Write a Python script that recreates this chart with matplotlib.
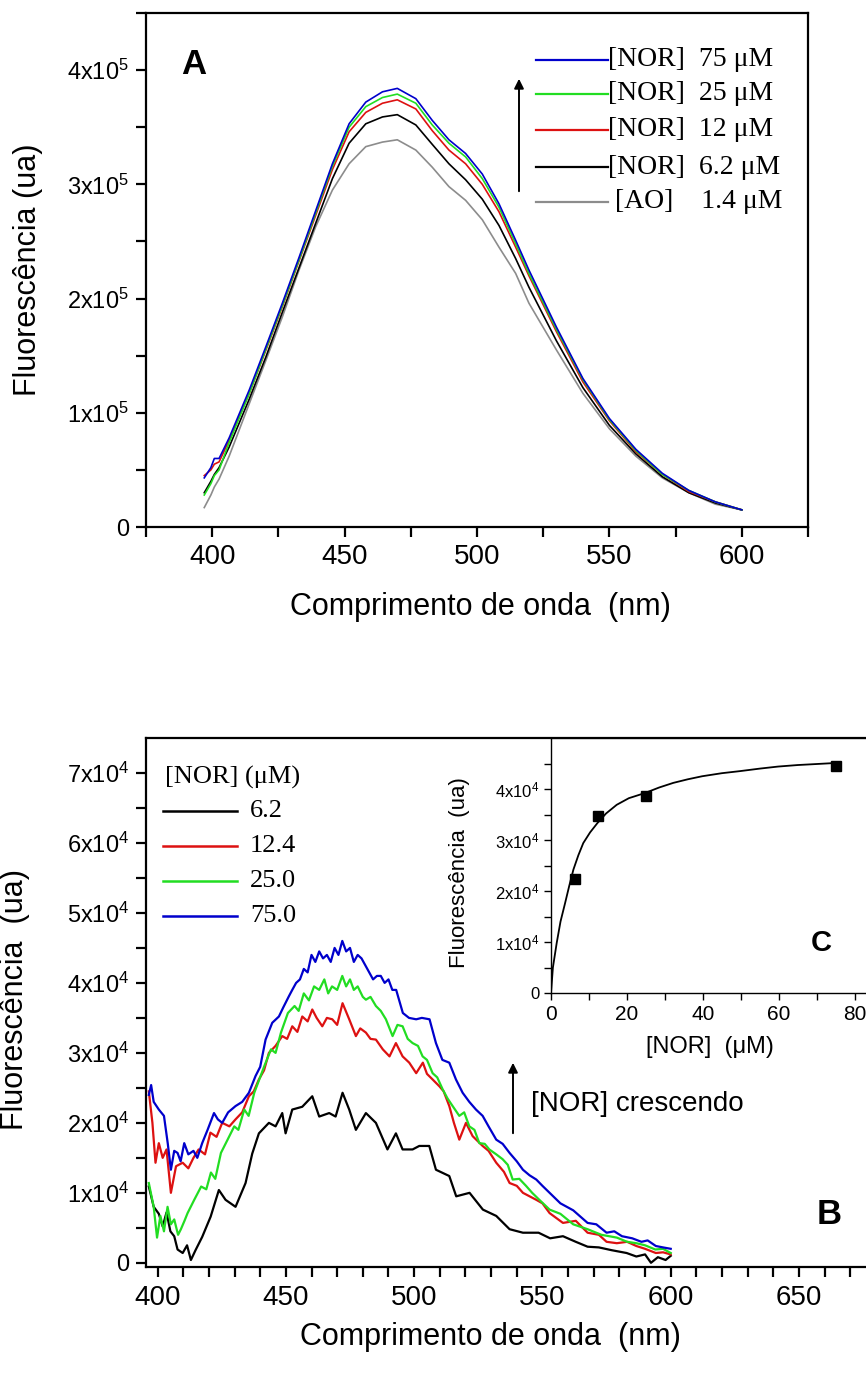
import matplotlib
matplotlib.use('Agg')
import matplotlib.pyplot as plt
import numpy as np
from matplotlib.ticker import FixedLocator, FuncFormatter
from matplotlib import font_manager
from matplotlib.lines import Line2D

# ---------------- data: panel A (values in units of 1e5) ----------------
wlA = [397, 399.5, 400.8, 402.6, 406.4, 414, 420.3, 426.5, 432.8, 439.1, 445.4, 451.7, 458,
       464.3, 469.9, 476.9, 483.1, 489.4, 495.7, 502, 508.3, 514.6, 519.6, 530, 540, 550,
       560, 570, 580, 590, 600]
A_nor75 = [0.43, 0.52, 0.6, 0.6, 0.78, 1.2, 1.58, 1.96, 2.36, 2.77, 3.18, 3.53, 3.72, 3.81, 3.84,
           3.75, 3.56, 3.39, 3.27, 3.09, 2.83, 2.51, 2.25, 1.75, 1.3, 0.95, 0.68, 0.47, 0.32, 0.22, 0.15]
A_nor25 = [0.28, 0.38, 0.45, 0.5, 0.74, 1.17, 1.56, 1.94, 2.34, 2.75, 3.16, 3.5, 3.68, 3.76, 3.79,
           3.71, 3.52, 3.36, 3.24, 3.05, 2.8, 2.48, 2.22, 1.73, 1.29, 0.94, 0.67, 0.46, 0.32, 0.22, 0.15]
A_nor12 = [0.45, 0.5, 0.55, 0.57, 0.76, 1.17, 1.55, 1.93, 2.33, 2.73, 3.13, 3.46, 3.63, 3.71, 3.74,
           3.66, 3.47, 3.3, 3.18, 3.0, 2.76, 2.45, 2.2, 1.71, 1.27, 0.93, 0.66, 0.46, 0.31, 0.22, 0.15]
A_nor6 = [0.3, 0.4, 0.46, 0.52, 0.7, 1.12, 1.49, 1.88, 2.27, 2.66, 3.05, 3.36, 3.53, 3.59, 3.61,
          3.52, 3.35, 3.18, 3.04, 2.87, 2.64, 2.35, 2.1, 1.63, 1.22, 0.89, 0.64, 0.44, 0.3, 0.21, 0.15]
A_ao = [0.17, 0.28, 0.35, 0.42, 0.62, 1.08, 1.46, 1.84, 2.25, 2.63, 2.95, 3.18, 3.33, 3.37, 3.39,
        3.3, 3.15, 2.98, 2.86, 2.69, 2.45, 2.22, 1.96, 1.55, 1.17, 0.86, 0.62, 0.43, 0.3, 0.2, 0.15]
A_labels = ['[NOR]  75 \u03bcM', '[NOR]  25 \u03bcM', '[NOR]  12 \u03bcM', '[NOR]  6.2 \u03bcM',
            ' [AO]    1.4 \u03bcM']

# ---------------- data: panel B (values in units of 1e4) ----------------
B_x62 = [396.6, 398.5, 400.5, 402, 403.5, 405, 406.5, 407.8, 409.8, 411.5, 413, 414.8, 417.4,
         420.7, 423.9, 426.5, 430.4, 434.3, 436.9, 439.5, 443.4, 446, 448.6, 449.9, 452.5, 456.4,
         460.3, 463, 466.9, 469.4, 472.1, 474.7, 477.3, 481.2, 485.1, 489.6, 492.9, 495.5, 499.4,
         502, 505.9, 508.5, 513.7, 516.4, 521.6, 526.8, 532, 537.2, 542.4, 548.5, 553, 558, 563,
         567.6, 572, 577, 582.8, 586.6, 590, 592.3, 595, 598, 600]
B_y62 = [1.09, 0.8, 0.7, 0.52, 0.72, 0.45, 0.38, 0.19, 0.14, 0.25, 0.04, 0.18, 0.37,
         0.66, 1.04, 0.9, 0.8, 1.14, 1.56, 1.85, 2.0, 1.95, 2.14, 1.85, 2.19, 2.23,
         2.38, 2.09, 2.14, 2.09, 2.43, 2.19, 1.9, 2.14, 2.0, 1.62, 1.85, 1.62, 1.62,
         1.67, 1.67, 1.33, 1.24, 0.95, 1.0, 0.76, 0.67, 0.48, 0.43, 0.43, 0.35, 0.38, 0.3,
         0.23, 0.22, 0.18, 0.14, 0.09, 0.12, 0.0, 0.08, 0.04, 0.1]

B_x124 = [396.6, 398, 399.2, 400.5, 402, 403.5, 405.2, 407.2, 409.8, 412, 414, 416, 418.5, 420.6,
          423, 425.2, 428, 430.4, 433, 435.6, 437.5, 439.5, 441.5, 443.4, 446, 448.6, 450.5,
          452.5, 454.5, 456.4, 458.5, 460.3, 462, 464.2, 466, 468.1, 470, 472.1, 474.7, 477.3,
          479, 481.2, 483, 485.1, 487.8, 490.4, 492.9, 495.5, 498.1, 500.8, 503.4, 505, 507.2,
          509.9, 511.5, 513.7, 515.5, 517.6, 520.2, 522.8, 526.7, 529, 532, 535, 537.2, 540,
          542.4, 545, 547.6, 550, 552.8, 558, 563, 567.6, 572, 575, 579, 583, 586.6, 590, 594.2,
          597, 600]
B_y124 = [2.45, 2.0, 1.43, 1.71, 1.5, 1.62, 1.0, 1.38, 1.43, 1.35, 1.5, 1.62, 1.55, 1.86,
          1.8, 2.0, 1.95, 2.05, 2.15, 2.38, 2.45, 2.62, 2.75, 3.0, 3.1, 3.24, 3.2,
          3.38, 3.3, 3.52, 3.45, 3.62, 3.5, 3.38, 3.5, 3.48, 3.4, 3.71, 3.48, 3.24,
          3.35, 3.29, 3.2, 3.19, 3.05, 2.95, 3.14, 2.95, 2.86, 2.71, 2.86, 2.7, 2.62,
          2.52, 2.45, 2.24, 2.0, 1.76, 2.0, 1.81, 1.67, 1.6, 1.43, 1.3, 1.14, 1.1,
          1.0, 0.95, 0.9, 0.85, 0.71, 0.57, 0.6, 0.43, 0.4, 0.3, 0.28, 0.3, 0.24, 0.2, 0.14,
          0.15, 0.12]

B_x25 = [396.6, 398.5, 399.8, 401.1, 402.5, 403.9, 405.2, 406.5, 408, 409.1, 410.5, 411.7, 414.3,
         417, 419, 420.8, 422.5, 424.7, 427.3, 429.9, 431.5, 433.8, 435.5, 437.7, 441.6, 444.2,
         446, 448.1, 450.8, 453.4, 455, 457, 459, 461, 463, 465, 466.5, 468, 470, 472, 473.5,
         475, 476.5, 478, 480, 481.2, 483, 485.1, 487, 489, 491.6, 493.5, 495.5, 497.5, 499.4,
         501.5, 503.3, 505, 507.2, 509, 511.1, 513, 515, 517.6, 519.5, 521.5, 523.5, 525.4,
         527.5, 529.3, 532, 534.5, 536.5, 538.4, 541, 543.6, 546, 548.8, 552.8, 557, 562, 567.6,
         573, 579, 583, 586.6, 590, 594, 597, 600]
B_y25 = [1.14, 0.8, 0.36, 0.67, 0.45, 0.8, 0.55, 0.62, 0.4, 0.48, 0.6, 0.71, 0.9,
         1.09, 1.05, 1.29, 1.2, 1.57, 1.76, 1.95, 1.9, 2.19, 2.1, 2.43, 2.81, 3.05,
         3.0, 3.29, 3.57, 3.67, 3.6, 3.85, 3.75, 3.95, 3.9, 4.05, 3.85, 3.95, 3.9, 4.1, 3.95,
         4.05, 3.9, 3.95, 3.8, 3.76, 3.8, 3.67, 3.6, 3.48, 3.24, 3.4, 3.38, 3.2, 3.14,
         3.1, 2.95, 2.9, 2.71, 2.65, 2.48, 2.35, 2.24, 2.1, 2.15, 1.95, 1.9, 1.71,
         1.7, 1.62, 1.55, 1.48, 1.4, 1.19, 1.2, 1.1, 1.0, 0.9, 0.76, 0.7, 0.55, 0.48,
         0.4, 0.36, 0.3, 0.28, 0.25, 0.19, 0.2, 0.14]

B_x75 = [396.6, 397.5, 398.5, 400.5, 402.5, 404, 405.2, 406.5, 407.8, 409, 410.4, 412, 414, 415.5,
         417.4, 419.5, 422, 423.5, 425.2, 427.5, 430.4, 433, 435.6, 438.2, 440, 442.1, 444.7,
         447.3, 449, 451.2, 452.5, 454, 455.5, 457, 458.5, 460, 461.5, 463, 464.5, 466, 467.5,
         469, 470.5, 472, 473.5, 475, 476.5, 478, 479.5, 481, 482.5, 484, 485.5, 487, 488.5,
         490, 491.5, 493, 495.6, 498, 500.8, 503, 506, 508.5, 511, 513.7, 516.3, 518.9, 521.5,
         524.1, 526.7, 529, 532, 534.5, 537.2, 540, 542.4, 545, 547.6, 550, 552.8, 557, 562,
         567.6, 571, 575, 578, 581, 585, 588.6, 591, 594.2, 597, 600]
B_y75 = [2.4, 2.54, 2.3, 2.19, 2.1, 1.7, 1.33, 1.6, 1.57, 1.45, 1.71, 1.55, 1.6, 1.5,
         1.71, 1.9, 2.14, 2.05, 2.0, 2.15, 2.24, 2.3, 2.43, 2.67, 2.8, 3.19, 3.43,
         3.52, 3.65, 3.81, 3.9, 4.0, 4.05, 4.2, 4.15, 4.4, 4.3, 4.45, 4.35, 4.4, 4.3,
         4.5, 4.4, 4.6, 4.45, 4.5, 4.3, 4.4, 4.35, 4.25, 4.15, 4.05, 4.1, 4.1, 4.0,
         4.05, 3.9, 3.9, 3.57, 3.5, 3.48, 3.5, 3.48, 3.14, 2.9, 2.86, 2.62, 2.43, 2.3,
         2.19, 2.1, 1.95, 1.76, 1.7, 1.57, 1.45, 1.33, 1.25, 1.19, 1.1, 1.0, 0.85, 0.75,
         0.57, 0.55, 0.43, 0.45, 0.38, 0.35, 0.3, 0.32, 0.24, 0.22, 0.2]
B_labels = ['6.2', '12.4', '25.0', '75.0']

# ---------------- data: inset C ----------------
C_conc = [6.2, 12.4, 25, 75]
C_fluo = [2.24, 3.47, 3.86, 4.45]          # units of 1e4
C_fit_x = [0, 0.5, 1.5, 2.5, 3.7, 4.8, 5.9, 7.2, 8.5, 10.3, 12.2, 14.5, 17.3, 20.5, 24.7,
           28.5, 32.2, 36, 39.8, 45, 49.7, 55, 59.8, 65, 70, 74.9]
C_fit_y = [0, 0.5, 0.98, 1.4, 1.76, 2.1, 2.42, 2.7, 2.94, 3.15, 3.33, 3.52, 3.69, 3.82, 3.92,
           4.03, 4.12, 4.19, 4.25, 4.31, 4.35, 4.4, 4.44, 4.47, 4.49, 4.51]

for a, b in [(wlA, A_nor75), (wlA, A_nor25), (wlA, A_nor12), (wlA, A_nor6), (wlA, A_ao),
             (B_x62, B_y62), (B_x124, B_y124), (B_x25, B_y25), (B_x75, B_y75), (C_fit_x, C_fit_y)]:
    assert len(a) == len(b), (len(a), len(b))

# ---------------- style ----------------
W, H = 866, 1376


def pick(names):
    for n in names:
        try:
            font_manager.findfont(n, fallback_to_default=False)
            return n
        except Exception:
            pass
    return 'DejaVu Sans'


SANS = pick(['Liberation Sans', 'DejaVu Sans'])
SERIF = pick(['Liberation Serif', 'DejaVu Serif'])
plt.rcParams['font.family'] = [SANS, 'DejaVu Sans']
plt.rcParams['mathtext.default'] = 'regular'

BLUE, GREEN, RED, BLACK, GRAY = '#0000cc', '#22dd22', '#dd1111', '#000000', '#8c8c8c'

fig = plt.figure(figsize=(W / 100, H / 100), dpi=100)


def box(l, t, r, b):
    return [l / W, 1 - b / H, (r - l) / W, (b - t) / H]


def fpx(x, y):
    return (x, H - y)


def sci(exp):
    def f(v, pos):
        k = int(round(v / 10 ** exp))
        return '0' if k == 0 else '%dx10$^{%d}$' % (k, exp)
    return FuncFormatter(f)


def style_axes(ax, lw=1.6, tlen=7, xsize=20, ysize=17):
    for s in ax.spines.values():
        s.set_linewidth(lw)
    ax.tick_params(which='both', direction='out', length=tlen, width=lw)
    ax.tick_params(axis='x', labelsize=xsize)
    ax.tick_params(axis='y', labelsize=ysize)


# ---------------- panel A ----------------
axA = fig.add_axes(box(146, 13, 808, 527))
for vals, c in [(A_ao, GRAY), (A_nor6, BLACK), (A_nor12, RED), (A_nor25, GREEN), (A_nor75, BLUE)]:
    axA.plot(wlA, np.array(vals) * 1e5, color=c, lw=1.2)
axA.set_xlim(375, 625)
axA.set_ylim(0, 4.5e5)
axA.xaxis.set_major_locator(FixedLocator([400, 450, 500, 550, 600]))
axA.xaxis.set_minor_locator(FixedLocator([375, 425, 475, 525, 575, 625]))
axA.yaxis.set_major_locator(FixedLocator([0, 1e5, 2e5, 3e5, 4e5]))
axA.yaxis.set_minor_locator(FixedLocator([0.5e5, 1.5e5, 2.5e5, 3.5e5, 4.5e5]))
axA.yaxis.set_major_formatter(sci(5))
style_axes(axA)
axA.tick_params(axis='x', pad=5)
axA.tick_params(axis='y', pad=5)
fig.text(28 / W, 1 - 270 / H, 'Fluoresc\u00eancia (ua)', rotation=90, ha='center', va='center', fontsize=22)
fig.text(480 / W, 1 - 607 / H, 'Comprimento de onda  (nm)', ha='center', va='center', fontsize=22)
fig.text(181 / W, 1 - 65 / H, 'A', ha='left', va='center', fontsize=25, fontweight='bold')

# legend A (manual)
legA_y = [60, 94, 130, 167, 202]
for (c, lab, y) in zip([BLUE, GREEN, RED, BLACK, GRAY], A_labels, legA_y):
    fig.add_artist(Line2D([536 / W, 608 / W], [1 - y / H, 1 - y / H], color=c, lw=1.6))
    fig.text(608 / W, 1 - y / H, lab, ha='left', va='center', fontsize=20, family=SERIF)
axA.annotate('', xy=fpx(519, 76), xytext=fpx(519, 194), xycoords='figure pixels',
             textcoords='figure pixels',
             arrowprops=dict(arrowstyle='-|>', color='k', lw=1.4, mutation_scale=14))

# ---------------- panel B ----------------
axB = fig.add_axes(box(146, 738, 876, 1267))
for xs, ys, c in [(B_x62, B_y62, BLACK), (B_x124, B_y124, RED), (B_x25, B_y25, GREEN), (B_x75, B_y75, BLUE)]:
    axB.plot(xs, np.array(ys) * 1e4, color=c, lw=1.6)
axB.set_xlim(395.5, 680)
axB.set_ylim(-600, 7.5e4)
axB.xaxis.set_major_locator(FixedLocator([400, 450, 500, 550, 600, 650]))
axB.xaxis.set_minor_locator(FixedLocator([v for v in range(410, 690, 10) if v % 50]))
axB.yaxis.set_major_locator(FixedLocator([i * 1e4 for i in range(8)]))
axB.yaxis.set_minor_locator(FixedLocator([(i + 0.5) * 1e4 for i in range(7)]))
axB.yaxis.set_major_formatter(sci(4))
style_axes(axB)
axB.tick_params(axis='x', pad=6)
axB.tick_params(axis='y', pad=5)
fig.text(15 / W, 1 - 1000 / H, 'Fluoresc\u00eancia  (ua)', rotation=90, ha='center', va='center', fontsize=22)
fig.text(490 / W, 1 - 1337 / H, 'Comprimento de onda  (nm)', ha='center', va='center', fontsize=22)
fig.text(829 / W, 1 - 1214 / H, 'B', ha='center', va='center', fontsize=25, fontweight='bold')

# legend B (manual)
fig.text(165 / W, 1 - 777 / H, '[NOR] (\u03bcM)', ha='left', va='center', fontsize=19, family=SERIF)
for c, lab, y in zip([BLACK, RED, GREEN, BLUE], B_labels, [811, 846, 881, 916]):
    fig.add_artist(Line2D([163 / W, 237 / W], [1 - y / H, 1 - y / H], color=c, lw=1.8))
    fig.text(250 / W, 1 - y / H, lab, ha='left', va='center', fontsize=19, family=SERIF)

axB.annotate('', xy=fpx(513, 1060), xytext=fpx(513, 1136), xycoords='figure pixels',
             textcoords='figure pixels',
             arrowprops=dict(arrowstyle='-|>', color='k', lw=1.4, mutation_scale=14))
fig.text(531 / W, 1 - 1104 / H, '[NOR] crescendo', ha='left', va='center', fontsize=20)

# ---------------- inset C ----------------
axC = fig.add_axes(box(551, 738, 870, 993))
axC.plot(C_fit_x, np.array(C_fit_y) * 1e4, color='k', lw=1.3)
axC.plot(C_conc, np.array(C_fluo) * 1e4, 's', color='k', ms=7)
axC.set_xlim(0, 84)
axC.set_ylim(0, 5e4)
axC.xaxis.set_major_locator(FixedLocator([0, 20, 40, 60, 80]))
axC.xaxis.set_minor_locator(FixedLocator([10, 30, 50, 70]))
axC.yaxis.set_major_locator(FixedLocator([i * 1e4 for i in range(5)]))
axC.yaxis.set_minor_locator(FixedLocator([(i + 0.5) * 1e4 for i in range(5)]))
axC.yaxis.set_major_formatter(sci(4))
style_axes(axC, lw=1.0, tlen=5, xsize=15, ysize=12)
axC.tick_params(axis='x', pad=4)
fig.text(460 / W, 1 - 873 / H, 'Fluoresc\u00eancia  (ua)', rotation=90, ha='center', va='center', fontsize=16)
fig.text(710 / W, 1 - 1047 / H, '[NOR]  (\u03bcM)', ha='center', va='center', fontsize=17)
fig.text(821 / W, 1 - 943 / H, 'C', ha='center', va='center', fontsize=21, fontweight='bold')

fig.savefig('out.png', dpi=100)
